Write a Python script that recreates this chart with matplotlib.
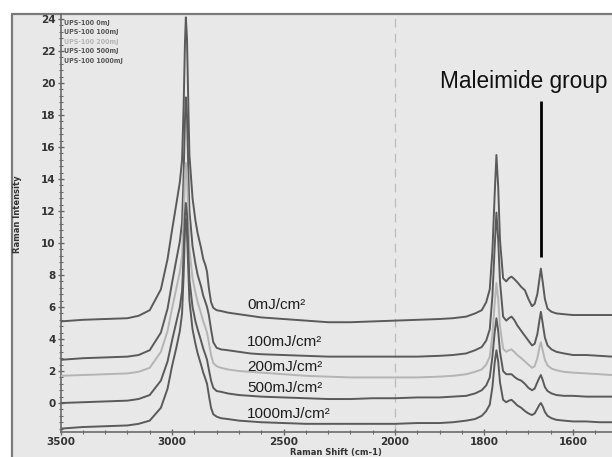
import numpy as np
import matplotlib
matplotlib.use("Agg")
import matplotlib.pyplot as plt
from matplotlib.patches import Rectangle
from matplotlib.ticker import FixedLocator, MultipleLocator, NullFormatter

# Raman shift grid (cm-1), shared by all spectra
shift = [3500, 3400, 3300, 3200, 3150, 3100, 3050, 3020, 3000, 2980,
         2965, 2955, 2948, 2942, 2938, 2933, 2926, 2922, 2908, 2895,
         2885, 2870, 2860, 2850, 2843, 2835, 2825, 2815, 2800, 2780,
         2750, 2700, 2650, 2600, 2500, 2400, 2300, 2200, 2100,
         2000, 1950, 1900, 1870, 1840, 1820, 1805, 1795, 1787, 1781,
         1776, 1772, 1768, 1764, 1757, 1750, 1744, 1738, 1732, 1725,
         1716, 1708, 1700, 1692, 1686, 1680, 1675, 1672, 1668, 1663,
         1657, 1648, 1637, 1620, 1600, 1570, 1540, 1512]

i_0 = [5.1, 5.2, 5.25, 5.3, 5.45, 5.8, 7.1, 9.0, 10.8, 12.5,
       13.8, 15.2, 18.5, 22.5, 24.1, 22.8, 18.0, 15.5, 12.8, 11.4,
       10.6, 9.7, 9.0, 8.6, 8.2, 7.2, 6.3, 5.95, 5.8, 5.75,
       5.65, 5.55, 5.45, 5.35, 5.25, 5.15, 5.05, 5.05, 5.1,
       5.15, 5.2, 5.25, 5.3, 5.4, 5.6, 5.8, 6.3, 7.1, 9.5,
       13.0, 15.5, 13.5, 10.2, 7.8, 7.6, 7.8, 7.9, 7.75, 7.55,
       7.25, 7.05, 6.5, 6.05, 6.2, 6.8, 7.8, 8.4, 7.6, 6.5,
       5.9, 5.7, 5.6, 5.55, 5.5, 5.5, 5.5, 5.5]

i_100 = [2.7, 2.8, 2.85, 2.9, 3.0, 3.3, 4.4, 5.9, 7.5, 9.0,
         10.1, 11.3, 14.2, 17.7, 19.1, 18.0, 14.0, 12.0, 9.8, 8.7,
         8.0, 7.3, 6.7, 6.3, 6.0, 5.5, 4.6, 3.8, 3.45, 3.35,
         3.3, 3.2, 3.1, 3.05, 3.0, 2.95, 2.9, 2.9, 2.9,
         2.9, 2.9, 2.95, 3.0, 3.1, 3.3, 3.5, 3.9, 4.6, 6.7,
         9.7, 11.9, 10.2, 7.6, 5.4, 5.15, 5.3, 5.4, 5.2, 4.85,
         4.5, 4.2, 3.9, 3.6, 3.7, 4.3, 5.2, 5.7, 5.0, 4.1,
         3.6, 3.35, 3.2, 3.1, 3.0, 3.0, 2.95, 2.9]

i_200 = [1.7, 1.75, 1.8, 1.85, 1.95, 2.2, 3.2, 4.5, 5.9, 7.2,
         8.2, 9.2, 11.6, 14.2, 15.0, 14.2, 11.2, 9.6, 7.8, 6.9,
         6.3, 5.6, 5.1, 4.7, 4.4, 3.8, 3.0, 2.5, 2.3, 2.2,
         2.1, 2.0, 1.95, 1.9, 1.8, 1.7, 1.65, 1.6, 1.6,
         1.6, 1.6, 1.65, 1.7, 1.8, 1.95, 2.1, 2.4, 2.9, 4.3,
         6.2, 7.5, 6.5, 4.8, 3.4, 3.2, 3.3, 3.35, 3.2, 3.0,
         2.8, 2.6, 2.4, 2.2, 2.3, 2.8, 3.5, 3.8, 3.3, 2.7,
         2.35, 2.15, 2.05, 1.95, 1.9, 1.85, 1.8, 1.75]

i_500 = [0.0, 0.05, 0.1, 0.15, 0.25, 0.5, 1.4, 2.6, 3.9, 5.1,
         6.0, 7.0, 9.3, 11.8, 12.5, 11.8, 9.1, 7.7, 6.0, 5.1,
         4.6, 3.9, 3.4, 3.0, 2.7, 2.1, 1.4, 0.95, 0.75, 0.7,
         0.6, 0.5, 0.45, 0.4, 0.35, 0.3, 0.25, 0.25, 0.3,
         0.3, 0.35, 0.35, 0.4, 0.45, 0.6, 0.8, 1.1, 1.6, 2.9,
         4.4, 5.3, 4.5, 3.2, 2.0, 1.8, 1.8, 1.8, 1.65, 1.5,
         1.4, 1.2, 0.95, 0.8, 0.9, 1.3, 1.6, 1.75, 1.45, 1.0,
         0.75, 0.6, 0.5, 0.45, 0.45, 0.4, 0.4, 0.4]

i_1000 = [-1.6, -1.5, -1.45, -1.4, -1.3, -1.1, -0.3, 0.9, 2.3, 3.5,
          4.5, 5.6, 8.0, 10.8, 11.5, 10.7, 7.9, 6.4, 4.6, 3.7,
          3.1, 2.4, 1.9, 1.5, 1.2, 0.5, -0.3, -0.7, -0.85, -0.95,
          -1.0, -1.1, -1.15, -1.2, -1.25, -1.3, -1.3, -1.3, -1.3,
          -1.3, -1.25, -1.25, -1.2, -1.1, -1.0, -0.8, -0.5, -0.1, 1.0,
          2.5, 3.3, 2.6, 1.3, 0.2, 0.05, 0.15, 0.2, 0.05, -0.15,
          -0.3, -0.5, -0.65, -0.75, -0.65, -0.35, -0.1, 0.0, -0.2, -0.55,
          -0.8, -0.95, -1.05, -1.1, -1.15, -1.15, -1.2, -1.2]

doses = ["0mJ", "100mJ", "200mJ", "500mJ", "1000mJ"]
spectra = [i_0, i_100, i_200, i_500, i_1000]
colors = ["#5a5a5a", "#5a5a5a", "#b4b4b4", "#5a5a5a", "#5a5a5a"]
label_y = [6.1, 3.8, 2.25, 0.95, -0.7]

x_ticks = [3500, 3000, 2500, 2000, 1800, 1600]
x_minor = list(range(3500, 2000, -100)) + list(range(2000, 1500, -50))
y_ticks = list(range(0, 26, 2))

BREAK = 2000  # x axis changes its scale here


def fwd(x):
    x = np.asarray(x, dtype=float)
    return np.where(x >= BREAK, (x - BREAK) * 1.0, (x - BREAK) * 1.993)


def inv(u):
    u = np.asarray(u, dtype=float)
    return np.where(u >= 0, u / 1.0 + BREAK, u / 1.993 + BREAK)


plt.rcParams['font.family'] = ['Liberation Sans', 'DejaVu Sans']
fig = plt.figure(figsize=(6.12, 4.57), dpi=100, facecolor="white")
fig.add_artist(Rectangle((12 / 612, -0.05), 1.0, 1 - 14 / 457 + 0.05,
                         transform=fig.transFigure, fc="#e8e8e8",
                         ec="#7a7a7a", lw=1.6, zorder=0))
ax = fig.add_axes([60.5 / 612, 1 - 432 / 457, 1 - 60.5 / 612, (432 - 14) / 457])
ax.set_facecolor("none")

ax.set_xscale("function", functions=(fwd, inv))
ax.set_xlim(3500, 1512)
ax.set_ylim(-1.81, 24.31)

ax.axvline(BREAK, color="#bcbcbc", lw=0.9, ls=(0, (7, 5)), zorder=1)

for name, y, c, ly in zip(doses, spectra, colors, label_y):
    ax.plot(shift, y, color=c, lw=1.4, zorder=3)
    ax.text(2663, ly, name + "/cm\u00b2", fontsize=11, color="#1e1e1e",
            ha="left", va="center", zorder=4)

# legend block in the upper left corner
for k, (name, c) in enumerate(zip(doses, colors)):
    ax.text(0.006, 0.979 - k * 0.0228, "UPS-100 " + name, transform=ax.transAxes,
            fontsize=5, fontweight="bold", color=c if c != "#5a5a5a" else "#555555",
            family=["DejaVu Sans"], ha="left", va="center", fontstretch="condensed")

# maleimide marker
ax.vlines(1672, 9.1, 18.9, color="black", lw=2, zorder=4)
ax.text(1710, 19.7, "Maleimide group", fontsize=16.3, color="#111111",
        ha="center", va="baseline")

ax.xaxis.set_major_locator(FixedLocator(x_ticks))
ax.xaxis.set_minor_locator(FixedLocator(x_minor))
ax.xaxis.set_minor_formatter(NullFormatter())
ax.yaxis.set_major_locator(FixedLocator(y_ticks))
ax.yaxis.set_minor_locator(MultipleLocator(0.4))

for s in ["top", "right"]:
    ax.spines[s].set_visible(False)
for s in ["left", "bottom"]:
    ax.spines[s].set_color("#6a6a6a")
    ax.spines[s].set_linewidth(1.2)

tick_font = ["Liberation Sans Narrow", "DejaVu Sans"]
ax.tick_params(which="major", direction="inout", length=5, width=1, color="#6a6a6a",
               labelsize=7.5, pad=1)
ax.tick_params(which="minor", direction="inout", length=3, width=0.8, color="#6a6a6a")
for lab in ax.get_xticklabels() + ax.get_yticklabels():
    lab.set_family(tick_font)
    lab.set_fontweight("bold")
    lab.set_color("#333333")

ax.set_xlabel("Raman Shift (cm-1)", fontsize=6, fontweight="bold",
              family=tick_font, labelpad=1, color="#333333")
ax.set_ylabel("Raman Intensity", fontsize=6, fontweight="bold",
              family=tick_font, labelpad=14, color="#333333")
ax.yaxis.set_label_coords(-0.07, 0.52)

fig.savefig("out.png", dpi=100, facecolor="white")
